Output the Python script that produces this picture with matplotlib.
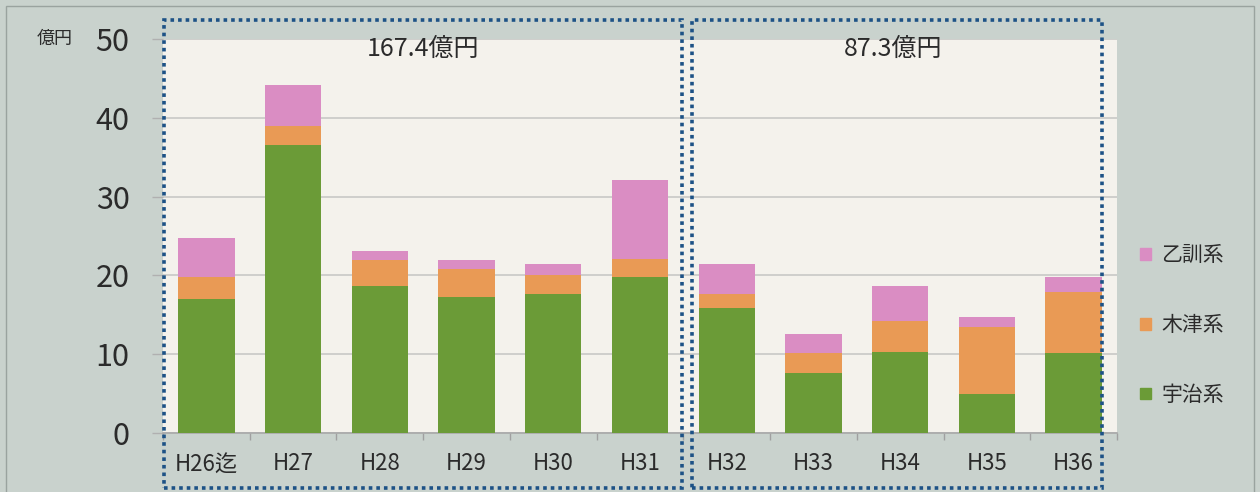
import matplotlib.pyplot as plt
from matplotlib.patches import Rectangle, Patch
import numpy as np

plt.rcParams['font.family'] = ['Noto Sans CJK JP', 'DejaVu Sans']

# 年度別の事業費（億円）
years = ['H26迄', 'H27', 'H28', 'H29', 'H30', 'H31', 'H32', 'H33', 'H34', 'H35', 'H36']
uji = [17.0, 36.5, 18.6, 17.2, 17.6, 19.8, 15.9, 7.6, 10.3, 4.9, 10.2]
kizu = [2.8, 2.5, 3.4, 3.6, 2.5, 2.3, 1.8, 2.6, 3.9, 8.6, 7.7]
otokuni = [4.9, 5.2, 1.1, 1.2, 1.4, 10.0, 3.7, 2.4, 4.5, 1.2, 1.9]
period_totals = ['167.4億円', '87.3億円']

c_uji = '#6b9b37'
c_kizu = '#e99a55'
c_otokuni = '#da8dc3'
bg_outer = '#c9d2cd'
bg_plot = '#f4f2ec'
txt = '#2b2b2b'

fig = plt.figure(figsize=(12.6, 4.92), dpi=100, facecolor=bg_outer)
ax = fig.add_axes([163 / 1260, 59 / 492, 954 / 1260, 394 / 492])
ax.set_facecolor(bg_plot)

x = np.arange(len(years))
w = 0.65
ax.bar(x, uji, w, color=c_uji, zorder=3)
ax.bar(x, kizu, w, bottom=uji, color=c_kizu, zorder=3)
bottom2 = np.array(uji) + np.array(kizu)
ax.bar(x, otokuni, w, bottom=bottom2, color=c_otokuni, zorder=3)

ax.set_xlim(-0.5, len(years) - 0.5)
ax.set_ylim(0, 50)
ax.set_yticks([0, 10, 20, 30, 40, 50])
ax.yaxis.grid(True, color='#c8c8c6', linewidth=1.2, zorder=0)
ax.tick_params(axis='y', length=8, width=1, color='#b0b0b0', pad=16,
               labelsize=22, labelcolor=txt)

ax.set_xticks(x)
ax.set_xticklabels(years)
ax.set_xticks(np.arange(-0.5, len(years)), minor=True)
ax.tick_params(axis='x', which='major', length=0, pad=14, labelsize=16, labelcolor=txt)
ax.tick_params(axis='x', which='minor', length=5, width=1, color='#a0a0a0')

for s in ['left', 'right', 'top']:
    ax.spines[s].set_visible(False)
ax.spines['bottom'].set_color('#a8a8a8')
ax.spines['bottom'].set_linewidth(1.2)

# 単位
fig.text(55 / 1260, 1 - 39 / 492, '億円', fontsize=13, color=txt, ha='center', va='center')

# 期間ごとの合計
fig.text(423 / 1260, 1 - 49 / 492, period_totals[0], fontsize=18, color=txt, ha='center', va='center')
fig.text(893 / 1260, 1 - 49 / 492, period_totals[1], fontsize=18, color=txt, ha='center', va='center')

# 期間を囲む点線枠
for x0, x1 in [(164, 682), (692, 1102)]:
    fig.patches.append(Rectangle((x0 / 1260, 1 - 488 / 492), (x1 - x0) / 1260, 468 / 492,
                                 transform=fig.transFigure, fill=False,
                                 edgecolor='#1d5286', linewidth=2.6,
                                 linestyle=(0, (1, 1.1)), zorder=10))

# 外枠
fig.patches.append(Rectangle((6 / 1260, -0.01), 1248 / 1260, 1 - 6 / 492 + 0.01,
                             transform=fig.transFigure, fill=False,
                             edgecolor='#9aa39f', linewidth=1, zorder=1))

handles = [Patch(color=c_otokuni, label='乙訓系'),
           Patch(color=c_kizu, label='木津系'),
           Patch(color=c_uji, label='宇治系')]
fig.legend(handles=handles, loc='center', bbox_to_anchor=(1182 / 1260, 1 - 325 / 492),
           frameon=False, fontsize=15, labelcolor=txt, handlelength=0.5, handleheight=0.5,
           handletextpad=0.5, labelspacing=2.3)

fig.savefig('out.png', dpi=100, facecolor=bg_outer)
